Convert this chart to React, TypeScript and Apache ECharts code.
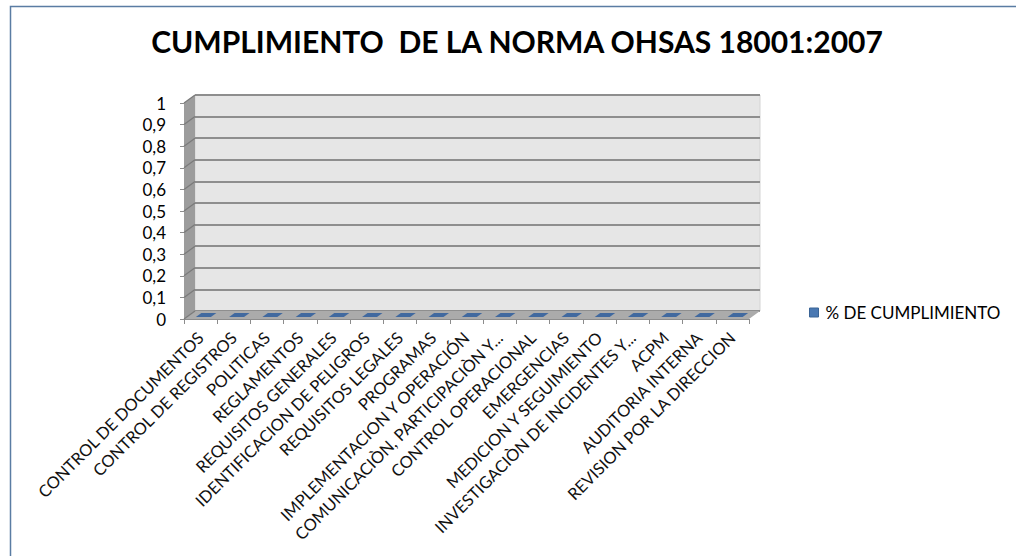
import React, { useEffect, useRef } from "react";
import * as echarts from "echarts";

const chartTitle = "CUMPLIMIENTO  DE LA NORMA OHSAS 18001:2007";
const seriesName = "% DE CUMPLIMIENTO";

const categories = [
  "CONTROL DE DOCUMENTOS",
  "CONTROL DE REGISTROS",
  "POLITICAS",
  "REGLAMENTOS",
  "REQUISITOS GENERALES",
  "IDENTIFICACION DE PELIGROS",
  "REQUISITOS LEGALES",
  "PROGRAMAS",
  "IMPLEMENTACION Y OPERACIÓN",
  "COMUNICACIÒN, PARTICIPACIÒN Y...",
  "CONTROL OPERACIONAL",
  "EMERGENCIAS",
  "MEDICION Y SEGUIMIENTO",
  "INVESTIGACIÒN DE INCIDENTES Y...",
  "ACPM",
  "AUDITORIA INTERNA",
  "REVISION POR LA DIRECCION",
];

const cumplimiento = [0, 0, 0, 0, 0, 0, 0, 0, 0, 0, 0, 0, 0, 0, 0, 0, 0];

const yTickValues = [0, 0.1, 0.2, 0.3, 0.4, 0.5, 0.6, 0.7, 0.8, 0.9, 1];

// 3D depth offset (front -> back)
const DX = 11;
const DY = -8;
const BAR_T0 = 0.25;
const BAR_T1 = 0.75;
const FONT = "Lato, 'Open Sans', sans-serif";

export default function App() {
  const ref = useRef<HTMLDivElement>(null);

  useEffect(() => {
    if (!ref.current) return;
    const chart = echarts.init(ref.current, null, { renderer: "svg" });

    const yMin = yTickValues[0];
    const yMax = yTickValues[yTickValues.length - 1];
    const yInt = +(yTickValues[1] - yTickValues[0]).toFixed(6);

    const front = { left: 184, top: 103, width: 565, height: 216 };
    const back = {
      left: front.left + DX,
      top: front.top + DY,
      width: front.width,
      height: front.height,
    };

    const fmt = (v: number) => String(+v.toFixed(2)).replace(".", ",");

    chart.setOption({
      animation: false,
      color: ["#4a78b2"],
      title: {
        text: chartTitle,
        left: 512,
        textAlign: "center",
        top: 21,
        textStyle: {
          fontFamily: FONT,
          fontWeight: "bold",
          fontSize: 30,
          color: "#000",
        },
      },
      legend: {
        data: [seriesName],
        left: 809,
        top: 304,
        padding: 0,
        icon: "rect",
        itemWidth: 9,
        itemHeight: 9,
        itemStyle: { borderColor: "#3a6496", borderWidth: 1 },
        textStyle: {
          fontFamily: FONT,
          fontSize: 17,
          color: "#000",
          padding: [0, 0, 0, 2],
        },
      },
      graphic: [
        {
          type: "rect",
          silent: true,
          shape: { x: 10.5, y: 6.5, width: 1030, height: 570 },
          style: { fill: "none", stroke: "#5a7ca3", lineWidth: 1.5 },
          z: 100,
        },
      ],
      grid: [
        {
          left: front.left,
          top: front.top,
          width: front.width,
          height: front.height,
        },
        {
          left: back.left,
          top: back.top,
          width: back.width,
          height: back.height,
          show: true,
          backgroundColor: "#e6e6e6",
          borderColor: "#d4d4d4",
          borderWidth: 1,
        },
      ],
      xAxis: [
        {
          type: "category",
          gridIndex: 0,
          data: categories,
          boundaryGap: true,
          axisLine: { show: true, lineStyle: { color: "#8c8c8c", width: 1 } },
          axisTick: {
            show: true,
            length: 5,
            lineStyle: { color: "#8c8c8c" },
          },
          axisLabel: {
            interval: 0,
            rotate: 45,
            margin: 16,
            fontFamily: FONT,
            fontSize: 16.5,
            color: "#111",
          },
        },
        {
          type: "category",
          gridIndex: 1,
          data: categories,
          show: false,
        },
      ],
      yAxis: [
        {
          type: "value",
          gridIndex: 0,
          min: yMin,
          max: yMax,
          interval: yInt,
          axisLine: { show: true, lineStyle: { color: "#8c8c8c" } },
          axisTick: { show: true, length: 4, lineStyle: { color: "#8c8c8c" } },
          splitLine: { show: false },
          axisLabel: {
            margin: 18,
            fontFamily: FONT,
            fontSize: 17,
            color: "#000",
            formatter: fmt,
          },
        },
        {
          type: "value",
          gridIndex: 1,
          min: yMin,
          max: yMax,
          interval: yInt,
          axisLine: { show: false },
          axisTick: { show: false },
          axisLabel: { show: false },
          splitLine: { show: true, lineStyle: { color: "#8e8e8e", width: 2 } },
        },
      ],
      series: [
        {
          // side wall + floor, derived from the front coordinate system
          type: "custom",
          name: "walls",
          xAxisIndex: 0,
          yAxisIndex: 0,
          silent: true,
          z: 1,
          data: [[0, yMin]],
          renderItem: (params: any, api: any) => {
            const cs = params.coordSys;
            const x0 = cs.x;
            const x1 = cs.x + cs.width;
            const yTop = api.coord([0, yMax])[1];
            const yBot = api.coord([0, yMin])[1];
            return {
              type: "group",
              children: [
                {
                  type: "polygon",
                  shape: {
                    points: [
                      [x0, yTop],
                      [x0 + DX, yTop + DY],
                      [x0 + DX, yBot + DY],
                      [x0, yBot],
                    ],
                  },
                  style: { fill: "#9c9c9c" },
                },
                {
                  type: "polygon",
                  shape: {
                    points: [
                      [x0, yBot],
                      [x1, yBot],
                      [x1 + DX, yBot + DY],
                      [x0 + DX, yBot + DY],
                    ],
                  },
                  style: { fill: "#ababab" },
                },
              ],
            };
          },
        },
        {
          // grid lines on the side wall
          type: "custom",
          name: "sidegrid",
          xAxisIndex: 0,
          yAxisIndex: 0,
          silent: true,
          z: 1.5,
          data: yTickValues.map((v) => [0, v]),
          renderItem: (params: any, api: any) => {
            const cs = params.coordSys;
            const y = api.coord([0, api.value(1)])[1];
            return {
              type: "line",
              shape: { x1: cs.x, y1: y, x2: cs.x + DX, y2: y + DY },
              style: { stroke: "#7a7a7a", lineWidth: 1.2 },
            };
          },
        },
        {
          type: "custom",
          name: seriesName,
          xAxisIndex: 0,
          yAxisIndex: 0,
          z: 3,
          itemStyle: { color: "#4a78b2" },
          encode: { x: 0, y: 1 },
          data: cumplimiento.map((v, i) => [i, v]),
          renderItem: (params: any, api: any) => {
            const i = api.value(0);
            const v = api.value(1);
            const base = api.coord([i, 0]);
            const top = api.coord([i, v]);
            const band = api.size([1, 0])[0];
            const w = band * 0.45;
            const cx = base[0];
            const xl = cx - w / 2;
            const xr = cx + w / 2;
            const a = [DX * BAR_T0, DY * BAR_T0];
            const b = [DX * BAR_T1, DY * BAR_T1];
            const children: any[] = [];
            if (base[1] - top[1] > 0.5) {
              children.push({
                type: "polygon",
                shape: {
                  points: [
                    [xl + a[0], top[1] + a[1]],
                    [xr + a[0], top[1] + a[1]],
                    [xr + a[0], base[1] + a[1]],
                    [xl + a[0], base[1] + a[1]],
                  ],
                },
                style: { fill: "#4f81bd" },
              });
              children.push({
                type: "polygon",
                shape: {
                  points: [
                    [xr + a[0], top[1] + a[1]],
                    [xr + b[0], top[1] + b[1]],
                    [xr + b[0], base[1] + b[1]],
                    [xr + a[0], base[1] + a[1]],
                  ],
                },
                style: { fill: "#3a6496" },
              });
            }
            children.push({
              type: "polygon",
              shape: {
                points: [
                  [xl + a[0], top[1] + a[1]],
                  [xr + a[0], top[1] + a[1]],
                  [xr + b[0], top[1] + b[1]],
                  [xl + b[0], top[1] + b[1]],
                ],
              },
              style: { fill: "#41699f" },
            });
            return { type: "group", children };
          },
        },
      ],
    });

    return () => chart.dispose();
  }, []);

  return (
    <div
      ref={ref}
      style={{
        position: "fixed",
        left: 0,
        top: 0,
        width: 1016,
        height: 556,
        background: "#fff",
      }}
    />
  );
}
